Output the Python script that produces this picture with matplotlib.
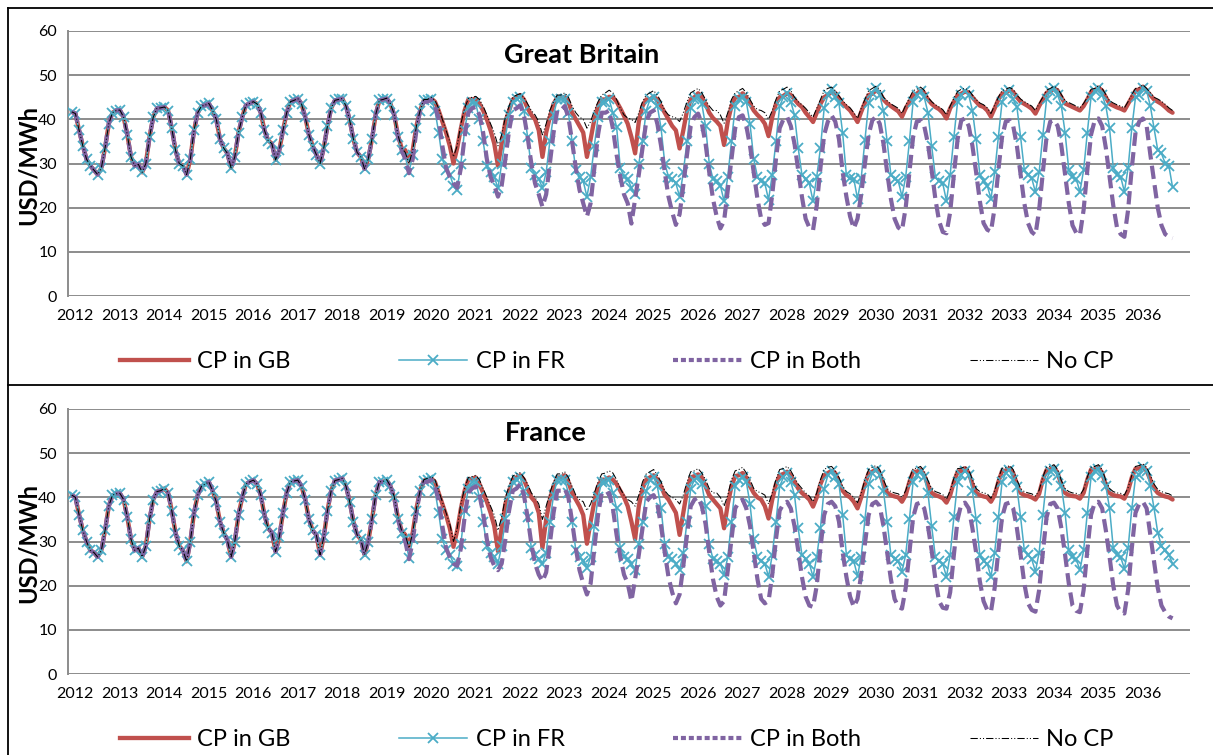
import matplotlib
matplotlib.use("Agg")
import matplotlib.pyplot as plt
from matplotlib.lines import Line2D

plt.rcParams['font.family'] = ['Lato', 'DejaVu Sans']

# ---------------- data (monthly, Jan 2012 .. Oct 2036) ----------------
year_labels = [str(y) for y in range(2012, 2037)]
series_names = ["CP in GB", "CP in FR", "CP in Both", "No CP"]

# Great Britain panel: all scenarios coincide 2012-2018
gb_common = [
    41.7, 41.3, 37.5, 34.0, 31.0, 29.5, 28.5, 27.5, 29.0, 33.5, 39.0, 41.5,
    42.0, 42.1, 40.5, 36.5, 31.5, 29.5, 29.8, 28.0, 30.0, 36.0, 40.5, 42.5,
    42.6, 42.8, 42.0, 38.0, 33.0, 30.0, 29.5, 27.5, 31.0, 37.5, 41.5, 43.0,
    43.2, 43.6, 42.0, 40.0, 35.5, 33.5, 32.3, 29.0, 31.5, 37.0, 40.5, 43.2,
    43.6, 44.0, 43.5, 41.5, 37.5, 35.2, 34.5, 30.8, 33.0, 37.5, 41.5, 44.0,
    44.3, 44.7, 43.5, 40.5, 36.5, 34.0, 32.0, 30.0, 33.5, 38.5, 42.5, 44.3,
    44.5, 44.7, 43.0, 39.8, 35.5, 32.5, 31.5, 28.8, 31.0, 35.5, 41.0, 44.3,
]
gb_cp_gb = [
    44.5, 44.7, 43.5, 41.0, 36.5, 33.5, 33.0, 30.5, 33.0, 38.5, 42.0, 44.3,
    44.3, 44.7, 44.0, 42.0, 39.5, 37.0, 34.0, 30.0, 33.5, 38.0, 42.0, 44.5,
    44.5, 44.7, 43.5, 42.0, 40.0, 37.5, 34.5, 29.5, 34.5, 39.5, 42.0, 44.5,
    45.0, 45.5, 44.5, 42.5, 41.0, 40.0, 37.5, 31.5, 37.0, 40.5, 43.5, 45.0,
    44.8, 45.1, 44.0, 41.5, 40.0, 38.5, 37.0, 31.5, 35.5, 40.0, 43.0, 44.5,
    44.5, 45.1, 45.0, 44.0, 42.5, 40.8, 39.0, 36.0, 32.3, 39.5, 43.0, 44.5,
    44.5, 45.1, 44.5, 43.0, 41.5, 40.0, 38.5, 37.5, 33.4, 37.5, 42.0, 44.5,
    45.0, 45.9, 45.0, 43.5, 41.5, 40.3, 39.5, 38.5, 34.2, 39.5, 43.0, 45.0,
    45.0, 45.9, 45.0, 43.5, 42.0, 41.0, 40.2, 39.0, 36.2, 40.5, 43.5, 45.0,
    45.3, 45.9, 45.5, 44.5, 43.5, 42.8, 41.5, 40.5, 39.4, 41.5, 43.5, 45.0,
    45.5, 46.3, 46.0, 44.8, 43.6, 42.8, 42.0, 40.8, 39.4, 41.7, 43.8, 45.5,
    45.8, 46.6, 46.0, 44.5, 43.6, 43.0, 42.4, 41.8, 40.6, 42.5, 44.0, 45.5,
    45.8, 46.5, 46.0, 44.5, 43.5, 42.8, 42.3, 41.5, 40.2, 42.5, 44.0, 45.5,
    45.8, 46.3, 46.0, 45.0, 44.0, 43.1, 42.8, 42.0, 40.6, 42.5, 44.5, 45.8,
    46.0, 46.6, 46.2, 45.0, 44.0, 43.5, 43.0, 42.4, 41.3, 43.0, 44.5, 46.0,
    46.3, 47.0, 46.5, 45.0, 43.6, 43.2, 42.8, 42.4, 42.0, 43.0, 44.5, 46.2,
    46.5, 47.2, 46.5, 45.0, 43.5, 43.1, 42.7, 42.4, 42.0, 43.5, 45.0, 46.5,
    46.8, 47.4, 46.5, 45.5, 44.5, 44.0, 43.5, 42.8, 42.0, 41.5,
]
gb_cp_fr = [
    44.5, 44.7, 43.5, 41.0, 36.0, 33.0, 31.5, 28.0, 32.0, 38.0, 42.0, 44.3,
    44.3, 44.7, 42.0, 37.0, 31.0, 28.5, 27.5, 25.0, 24.0, 30.0, 37.5, 42.5,
    44.0, 43.6, 40.0, 35.0, 29.5, 28.0, 27.0, 24.4, 30.0, 36.0, 41.0, 44.0,
    44.5, 45.0, 42.0, 36.0, 29.0, 27.5, 26.5, 24.5, 28.0, 35.0, 41.0, 44.5,
    44.5, 44.5, 41.5, 35.0, 28.5, 27.0, 26.0, 22.5, 27.0, 34.0, 40.5, 44.0,
    44.0, 44.5, 41.5, 38.3, 29.0, 27.0, 26.5, 24.5, 23.0, 30.0, 35.0, 42.0,
    44.5, 45.1, 43.0, 38.0, 30.0, 27.0, 26.5, 25.5, 22.5, 28.0, 35.0, 42.5,
    44.5, 45.0, 43.5, 38.5, 30.0, 26.5, 26.0, 25.0, 21.5, 27.0, 35.0, 43.0,
    44.5, 45.0, 44.0, 39.0, 31.0, 27.0, 26.0, 25.5, 21.8, 27.5, 35.0, 43.0,
    45.0, 46.0, 44.0, 41.0, 33.5, 27.5, 26.5, 25.5, 21.5, 27.0, 33.5, 42.5,
    45.5, 46.8, 45.0, 43.6, 36.8, 27.3, 26.7, 26.5, 22.0, 26.7, 35.3, 43.6,
    46.0, 47.0, 45.5, 42.0, 35.0, 27.5, 26.5, 26.0, 22.5, 27.0, 35.0, 44.0,
    45.5, 46.5, 45.0, 41.5, 34.0, 27.0, 26.0, 25.5, 21.5, 27.5, 36.0, 44.0,
    45.5, 46.5, 45.5, 42.0, 35.5, 27.5, 26.0, 25.0, 22.0, 28.0, 36.0, 44.0,
    46.0, 46.6, 44.5, 42.8, 36.0, 28.5, 27.5, 26.7, 23.5, 28.0, 36.5, 44.5,
    46.5, 47.0, 45.5, 43.0, 37.0, 28.5, 27.0, 26.5, 23.6, 28.5, 37.0, 45.0,
    46.5, 47.0, 45.5, 43.0, 38.0, 29.0, 27.5, 27.0, 23.6, 29.0, 38.0, 45.0,
    45.5, 47.2, 46.5, 43.0, 38.0, 33.0, 32.3, 30.0, 29.5, 24.6,
]
gb_cp_both = [
    44.5, 44.7, 43.5, 41.0, 36.0, 33.0, 31.0, 27.8, 31.0, 37.5, 42.0, 44.0,
    44.0, 44.5, 43.0, 40.0, 34.0, 29.0, 27.0, 25.5, 24.5, 29.0, 36.0, 41.5,
    42.5, 42.8, 41.0, 37.0, 31.0, 27.0, 25.0, 22.5, 25.0, 31.0, 37.5, 42.0,
    42.5, 43.2, 41.0, 36.0, 30.0, 25.5, 23.0, 20.2, 23.0, 30.0, 37.0, 42.0,
    42.0, 43.0, 40.5, 35.0, 29.0, 24.0, 21.0, 18.0, 21.0, 29.0, 36.5, 41.5,
    41.5, 42.0, 38.0, 32.0, 27.0, 23.0, 21.0, 16.4, 22.0, 27.5, 33.5, 39.5,
    41.5, 42.0, 39.0, 34.0, 28.0, 22.5, 19.0, 16.1, 18.5, 25.0, 32.0, 38.5,
    40.5, 41.3, 39.0, 34.5, 28.0, 22.0, 18.0, 15.3, 17.0, 24.0, 31.0, 38.0,
    40.5, 40.9, 38.5, 34.0, 28.0, 22.0, 17.5, 16.1, 16.5, 23.0, 31.0, 38.0,
    40.0, 40.6, 38.5, 34.5, 28.5, 22.5, 17.5, 15.5, 14.9, 20.5, 29.0, 36.5,
    39.5, 40.9, 39.5, 35.5, 28.0, 22.5, 18.0, 15.3, 17.5, 23.0, 30.0, 36.5,
    39.8, 40.6, 39.0, 34.5, 28.0, 22.0, 17.5, 15.5, 14.9, 20.0, 28.0, 36.0,
    39.5, 39.8, 38.5, 34.5, 28.5, 22.0, 17.0, 14.5, 14.2, 19.0, 27.5, 35.5,
    39.8, 40.2, 38.5, 34.0, 28.0, 21.5, 16.5, 15.0, 14.6, 20.0, 28.5, 36.0,
    39.5, 39.8, 38.5, 34.0, 27.5, 21.0, 16.5, 14.5, 13.8, 19.5, 28.0, 36.0,
    39.5, 39.8, 38.5, 34.0, 27.5, 21.0, 16.0, 14.3, 13.8, 19.5, 28.5, 36.5,
    39.8, 40.2, 38.5, 33.5, 27.0, 20.5, 15.5, 14.0, 13.4, 19.5, 29.0, 37.0,
    39.5, 40.2, 38.5, 32.0, 26.0, 20.0, 16.0, 14.0, 13.4, 13.1,
]
gb_no_cp = [
    44.5, 44.8, 43.5, 41.2, 36.5, 33.5, 32.5, 30.0, 33.0, 38.5, 42.0, 44.5,
    44.5, 45.0, 44.3, 42.5, 40.0, 37.5, 35.0, 31.5, 34.0, 39.0, 42.5, 44.7,
    45.0, 45.2, 44.5, 43.0, 41.0, 39.0, 37.0, 34.0, 36.5, 40.5, 43.0, 45.0,
    45.5, 45.8, 45.0, 43.5, 42.0, 41.0, 39.5, 36.5, 39.0, 42.0, 44.0, 45.5,
    45.5, 46.0, 45.0, 43.0, 41.5, 40.5, 40.0, 38.0, 39.5, 42.0, 44.0, 45.5,
    46.0, 46.6, 46.0, 44.5, 42.5, 41.0, 40.3, 40.0, 39.3, 41.5, 44.0, 45.5,
    46.0, 46.5, 45.5, 44.0, 42.0, 41.0, 40.6, 40.3, 39.5, 41.5, 44.0, 46.0,
    46.5, 47.0, 46.0, 44.5, 43.0, 42.0, 42.0, 41.0, 39.1, 41.5, 44.5, 46.0,
    46.5, 47.0, 46.0, 44.5, 43.0, 42.2, 42.0, 41.5, 40.0, 42.0, 44.5, 46.5,
    46.8, 47.3, 46.5, 45.0, 44.0, 43.3, 42.5, 41.5, 40.5, 42.5, 44.5, 46.5,
    47.0, 47.3, 46.5, 45.3, 44.2, 43.3, 42.6, 41.5, 40.2, 42.5, 44.5, 46.5,
    47.0, 47.5, 46.8, 45.0, 44.2, 43.5, 43.0, 42.5, 41.3, 43.2, 44.8, 46.5,
    46.8, 47.3, 46.6, 45.0, 44.0, 43.3, 42.8, 42.2, 41.0, 43.0, 44.8, 46.3,
    46.8, 47.0, 46.6, 45.5, 44.5, 43.7, 43.3, 42.6, 41.3, 43.2, 45.0, 46.5,
    46.8, 47.2, 46.8, 45.5, 44.6, 44.0, 43.5, 43.0, 42.0, 43.6, 45.0, 46.6,
    47.0, 47.5, 47.0, 45.6, 44.2, 43.8, 43.4, 43.0, 42.6, 43.6, 45.0, 46.8,
    47.0, 47.6, 47.0, 45.6, 44.2, 43.7, 43.3, 43.0, 42.6, 44.0, 45.6, 47.0,
    47.2, 47.8, 47.0, 46.0, 45.0, 44.6, 44.1, 43.4, 42.6, 42.0,
]

# France panel: all scenarios coincide 2012-2018
fr_common = [
    40.5, 40.0, 36.0, 32.5, 30.0, 28.0, 27.5, 26.5, 28.0, 32.5, 38.0, 40.5,
    40.8, 40.9, 39.5, 35.5, 30.5, 28.0, 28.5, 26.5, 29.0, 35.0, 39.5, 41.3,
    41.5, 42.0, 41.0, 37.0, 32.0, 29.0, 28.0, 25.5, 30.0, 36.5, 40.5, 42.5,
    43.0, 43.5, 41.5, 39.0, 34.5, 32.0, 30.3, 26.5, 30.0, 36.0, 40.0, 43.0,
    43.5, 43.9, 43.0, 40.5, 36.0, 33.0, 32.0, 27.7, 31.0, 36.5, 41.0, 43.5,
    43.7, 43.9, 42.5, 39.5, 35.0, 32.5, 31.5, 27.0, 31.0, 37.0, 41.5, 43.8,
    44.0, 44.3, 42.5, 39.0, 34.5, 31.5, 30.5, 27.0, 30.0, 35.0, 40.5, 43.5,
]
fr_cp_gb = [
    43.5, 43.9, 42.5, 40.0, 35.5, 32.5, 31.5, 29.0, 32.0, 37.5, 41.5, 43.8,
    44.0, 44.3, 43.5, 41.0, 38.5, 36.0, 33.0, 28.8, 32.5, 37.5, 41.5, 44.0,
    44.2, 44.5, 43.0, 41.0, 39.0, 36.5, 33.5, 27.8, 33.0, 38.5, 41.5, 44.0,
    44.5, 45.0, 44.0, 42.0, 40.0, 39.0, 36.5, 28.5, 35.0, 39.5, 42.5, 44.5,
    44.5, 45.0, 43.5, 41.0, 39.5, 38.0, 36.0, 29.5, 34.5, 39.0, 42.5, 44.0,
    44.0, 44.5, 44.0, 43.0, 41.5, 40.0, 38.0, 34.5, 30.5, 38.0, 42.0, 44.0,
    44.5, 45.0, 44.0, 42.5, 40.5, 39.5, 38.0, 36.5, 31.5, 36.5, 41.5, 44.5,
    44.8, 45.2, 44.5, 42.5, 40.5, 39.5, 38.5, 37.5, 33.0, 38.5, 42.5, 44.8,
    45.0, 45.5, 44.5, 42.5, 41.0, 40.0, 39.5, 38.0, 35.2, 39.5, 43.0, 45.0,
    45.3, 45.8, 45.0, 43.5, 42.0, 41.0, 40.3, 39.5, 37.9, 40.0, 43.0, 45.0,
    45.5, 46.0, 45.5, 43.5, 41.5, 40.5, 40.0, 39.0, 37.5, 40.0, 43.0, 45.5,
    45.8, 46.3, 45.5, 43.0, 41.0, 40.5, 40.2, 40.0, 39.0, 40.5, 43.5, 45.8,
    45.8, 46.3, 45.0, 42.8, 41.0, 40.5, 40.2, 39.8, 38.8, 40.5, 43.5, 45.8,
    46.0, 46.6, 45.5, 43.0, 41.0, 40.5, 40.2, 40.0, 39.0, 40.5, 43.5, 46.0,
    46.0, 46.6, 45.5, 43.0, 41.0, 40.5, 40.3, 40.0, 39.5, 40.8, 44.0, 46.2,
    46.3, 46.8, 45.5, 42.8, 41.0, 40.5, 40.3, 40.2, 39.7, 41.0, 44.0, 46.3,
    46.3, 46.8, 45.5, 42.8, 41.0, 40.5, 40.3, 40.2, 39.7, 41.5, 44.5, 46.5,
    46.5, 47.0, 46.0, 44.0, 42.0, 41.0, 40.5, 40.2, 40.0, 39.5,
]
fr_cp_fr = [
    43.5, 43.9, 42.5, 40.0, 35.0, 32.0, 30.5, 26.3, 30.5, 37.0, 41.5, 43.8,
    44.0, 44.3, 41.5, 36.5, 30.5, 28.0, 27.0, 25.0, 24.5, 29.5, 37.0, 42.0,
    43.5, 43.5, 40.0, 34.5, 29.0, 27.5, 26.5, 25.0, 29.0, 35.0, 40.5, 43.5,
    44.0, 44.5, 41.5, 35.5, 28.5, 27.0, 26.0, 25.0, 27.5, 34.5, 40.5, 44.0,
    44.0, 44.0, 41.0, 34.5, 28.0, 26.5, 25.5, 24.0, 26.5, 33.5, 40.0, 43.5,
    43.5, 44.0, 41.0, 37.5, 28.5, 26.5, 26.0, 25.0, 23.5, 29.5, 34.5, 41.5,
    44.0, 44.5, 42.5, 37.5, 29.5, 26.5, 26.0, 25.0, 23.5, 27.5, 34.5, 42.0,
    44.0, 44.5, 43.0, 38.0, 29.5, 26.0, 25.5, 25.0, 22.5, 26.5, 34.5, 42.5,
    44.0, 44.5, 43.5, 38.5, 30.5, 26.5, 25.5, 25.0, 22.0, 27.0, 34.5, 42.5,
    44.5, 45.5, 43.5, 40.5, 33.0, 27.0, 26.0, 25.0, 22.0, 26.5, 33.0, 42.0,
    45.0, 46.0, 44.5, 43.0, 36.0, 27.0, 26.0, 25.5, 22.2, 26.5, 35.0, 43.0,
    45.5, 46.3, 45.0, 41.5, 34.5, 27.0, 26.0, 25.5, 23.2, 27.0, 35.0, 43.5,
    45.0, 46.0, 44.5, 41.0, 33.5, 26.5, 25.5, 25.0, 22.0, 27.0, 35.5, 43.5,
    45.0, 46.0, 45.0, 41.5, 35.0, 27.0, 25.5, 25.0, 22.0, 27.5, 35.5, 43.5,
    45.5, 46.2, 44.0, 42.3, 35.5, 28.0, 27.0, 26.0, 23.2, 27.5, 36.0, 44.0,
    46.0, 46.5, 45.0, 42.5, 36.5, 28.0, 26.5, 26.0, 23.5, 28.0, 36.5, 44.5,
    46.0, 46.5, 45.0, 42.5, 37.5, 28.5, 27.0, 26.5, 23.8, 28.5, 37.5, 44.5,
    45.0, 46.8, 46.0, 42.5, 37.5, 32.0, 29.0, 28.0, 27.0, 25.0,
]
fr_cp_both = [
    43.5, 43.9, 42.5, 40.0, 35.0, 32.0, 30.0, 26.0, 30.0, 36.5, 41.5, 43.5,
    43.5, 44.0, 42.5, 39.5, 33.5, 28.5, 26.5, 25.0, 24.5, 28.5, 35.5, 41.0,
    42.0, 42.5, 40.5, 36.5, 30.5, 26.5, 24.5, 23.5, 25.0, 30.5, 37.0, 41.5,
    42.0, 43.0, 40.5, 35.5, 29.5, 25.0, 22.5, 21.0, 23.0, 29.5, 36.5, 41.5,
    41.5, 42.0, 40.0, 34.5, 28.5, 23.5, 20.5, 18.0, 20.5, 28.5, 36.0, 41.0,
    40.5, 41.0, 37.5, 31.5, 26.5, 22.5, 20.5, 16.5, 21.5, 27.0, 33.0, 39.0,
    40.0, 40.5, 38.5, 33.5, 27.5, 22.0, 18.5, 16.0, 18.0, 24.5, 31.5, 38.0,
    39.5, 40.0, 38.0, 34.0, 27.5, 21.5, 17.5, 15.5, 16.5, 23.5, 30.5, 37.5,
    39.0, 39.5, 37.5, 33.5, 27.5, 21.5, 17.0, 16.0, 16.5, 22.5, 30.5, 37.0,
    38.5, 39.0, 37.5, 33.5, 28.0, 22.0, 17.5, 15.5, 15.2, 20.0, 28.5, 36.0,
    38.5, 39.0, 38.0, 34.5, 27.5, 22.0, 17.5, 15.2, 17.0, 22.5, 29.5, 36.0,
    38.5, 39.0, 38.0, 33.5, 27.5, 21.5, 17.0, 15.2, 14.8, 19.5, 27.5, 35.5,
    38.5, 38.8, 37.5, 33.5, 28.0, 21.5, 16.5, 15.0, 14.8, 18.5, 27.0, 35.0,
    38.5, 38.8, 37.5, 33.0, 27.5, 21.0, 16.5, 14.5, 14.1, 19.5, 28.0, 35.5,
    38.5, 38.8, 37.5, 33.0, 27.0, 20.5, 16.0, 14.5, 14.1, 19.0, 27.5, 35.5,
    38.5, 38.8, 37.5, 33.0, 27.0, 20.5, 15.5, 14.3, 14.0, 19.0, 28.0, 36.0,
    38.8, 39.0, 37.5, 32.5, 26.5, 20.0, 15.5, 14.0, 13.7, 19.0, 28.5, 36.5,
    38.5, 39.0, 37.5, 31.5, 25.5, 19.5, 15.5, 14.0, 13.0, 12.6,
]
fr_no_cp = [
    43.6, 44.0, 42.5, 40.2, 35.5, 32.5, 31.5, 28.5, 32.0, 37.5, 41.5, 44.0,
    44.3, 44.7, 44.0, 41.5, 39.0, 36.5, 34.0, 30.0, 33.0, 38.5, 42.0, 44.5,
    44.7, 45.0, 44.0, 42.0, 40.0, 38.0, 36.0, 32.5, 35.5, 40.0, 42.5, 44.8,
    45.3, 45.6, 44.5, 43.0, 41.0, 40.0, 38.5, 35.0, 38.0, 41.0, 43.5, 45.3,
    45.3, 45.8, 44.5, 42.5, 40.5, 39.5, 39.0, 37.0, 38.5, 41.0, 43.5, 45.3,
    45.5, 46.0, 45.5, 44.0, 42.0, 40.5, 39.5, 39.0, 38.0, 40.5, 43.5, 45.3,
    45.8, 46.3, 45.0, 43.5, 41.5, 40.5, 40.0, 39.5, 38.5, 40.5, 43.5, 45.8,
    46.0, 46.5, 45.5, 44.0, 42.0, 41.0, 41.0, 40.0, 38.0, 40.5, 44.0, 46.0,
    46.3, 46.8, 45.5, 44.0, 42.0, 41.3, 41.0, 40.5, 38.5, 41.0, 44.0, 46.3,
    46.5, 47.0, 46.0, 44.5, 43.0, 42.0, 41.0, 40.3, 39.0, 41.0, 44.0, 46.3,
    46.8, 47.0, 46.0, 44.5, 42.5, 41.3, 40.8, 40.0, 38.8, 41.0, 44.0, 46.3,
    46.8, 47.2, 46.3, 44.0, 42.0, 41.3, 41.0, 40.8, 40.0, 41.5, 44.3, 46.5,
    46.6, 47.0, 46.0, 43.8, 42.0, 41.3, 41.0, 40.6, 39.6, 41.5, 44.3, 46.5,
    46.6, 47.0, 46.3, 44.0, 42.0, 41.3, 41.0, 40.8, 39.8, 41.5, 44.3, 46.6,
    46.7, 47.2, 46.3, 44.0, 42.0, 41.3, 41.0, 40.8, 40.3, 41.6, 44.6, 46.8,
    47.0, 47.4, 46.3, 43.8, 42.0, 41.3, 41.0, 40.9, 40.5, 41.8, 44.6, 46.8,
    47.0, 47.4, 46.3, 43.8, 42.0, 41.3, 41.0, 40.9, 40.5, 42.2, 45.0, 47.0,
    47.2, 47.6, 46.8, 45.0, 43.0, 41.8, 41.3, 41.0, 40.8, 40.3,
]

panels = [
    ("Great Britain", [gb_common + gb_cp_gb, gb_common + gb_cp_fr,
                       gb_common + gb_cp_both, gb_common + gb_no_cp]),
    ("France", [fr_common + fr_cp_gb, fr_common + fr_cp_fr,
                fr_common + fr_cp_both, fr_common + fr_no_cp]),
]

# ---------------- styling ----------------
W, H = 1213, 755
RED, BLUE, PURPLE = "#C0504D", "#4BACC6", "#8064A2"
GRID = "#8C8C8C"

styles = [
    dict(color=RED, lw=3.1, solid_capstyle="round", zorder=2),
    dict(color=BLUE, lw=1.1, marker="x", ms=7, mew=1.3, zorder=3),
    dict(color=PURPLE, lw=3.0, dashes=(3.2, 1.5), zorder=4),
    dict(color="black", lw=0.75, dashes=(7, 2, 1, 2, 1, 2), zorder=5),
]

fig = plt.figure(figsize=(W / 100, H / 100), dpi=100)


def rect(left, top, right, bottom):
    return [left / W, 1 - bottom / H, (right - left) / W, (bottom - top) / H]


axes_boxes = [(68, 31, 1190, 296), (68, 409, 1190, 674)]
title_pos = [(582, 55), (546, 433)]
ylabel_y = [165, 543]
legend_y = [362, 740]

for p, ((title, data), box) in enumerate(zip(panels, axes_boxes)):
    ax = fig.add_axes(rect(*box))
    n = len(data[0])
    x = list(range(n))
    for vals, st, name in zip(data, styles, series_names):
        ax.plot(x, vals, label=name, **st)
    ax.set_xlim(-1.0, 301.7)
    ax.set_ylim(0, 60)
    ax.set_yticks(range(0, 61, 10))
    ax.set_xticks([12 * k + 0.9 for k in range(len(year_labels))])
    ax.set_xticklabels(year_labels)
    ax.tick_params(axis="both", length=0, labelsize=11.5, colors="black")
    ax.tick_params(axis="x", pad=9)
    ax.tick_params(axis="y", pad=8)
    ax.grid(axis="y", color=GRID, lw=1.4)
    ax.set_axisbelow(True)
    for s in ("top", "right", "bottom"):
        ax.spines[s].set_visible(False)
    ax.spines["left"].set_color(GRID)
    ax.spines["left"].set_linewidth(1.4)
    ax.set_facecolor("none")

    tx, ty = title_pos[p]
    fig.text(tx / W, 1 - ty / H, title, ha="center", va="center",
             fontsize=19.5, fontweight="bold")
    fig.text(28 / W, 1 - ylabel_y[p] / H, "USD/MWh", rotation=90,
             ha="center", va="center", fontsize=17, fontweight="bold")

    handles = [
        Line2D([], [], color=RED, lw=3.1),
        Line2D([], [], color=BLUE, lw=1.1, marker="x", ms=7, mew=1.3),
        Line2D([], [], color=PURPLE, lw=3.0, dashes=(1.2, 0.7)),
        Line2D([], [], color="black", lw=0.75, dashes=(7, 2, 1, 2, 1, 2)),
    ]
    fig.legend(handles, series_names, loc="center",
               bbox_to_anchor=(617 / W, 1 - legend_y[p] / H), ncol=4,
               frameon=False, fontsize=17, handlelength=2.9,
               handletextpad=0.35, columnspacing=4.6)

# chart frames
for (x0, y0, x1, y1) in [(8, 8, 1213, 8), (8, 8, 8, 755), (8, 385, 1213, 385)]:
    fig.add_artist(Line2D([x0 / W, x1 / W], [1 - y0 / H, 1 - y1 / H],
                          color="black", lw=1.3, transform=fig.transFigure))

fig.savefig("out.png", dpi=100)
